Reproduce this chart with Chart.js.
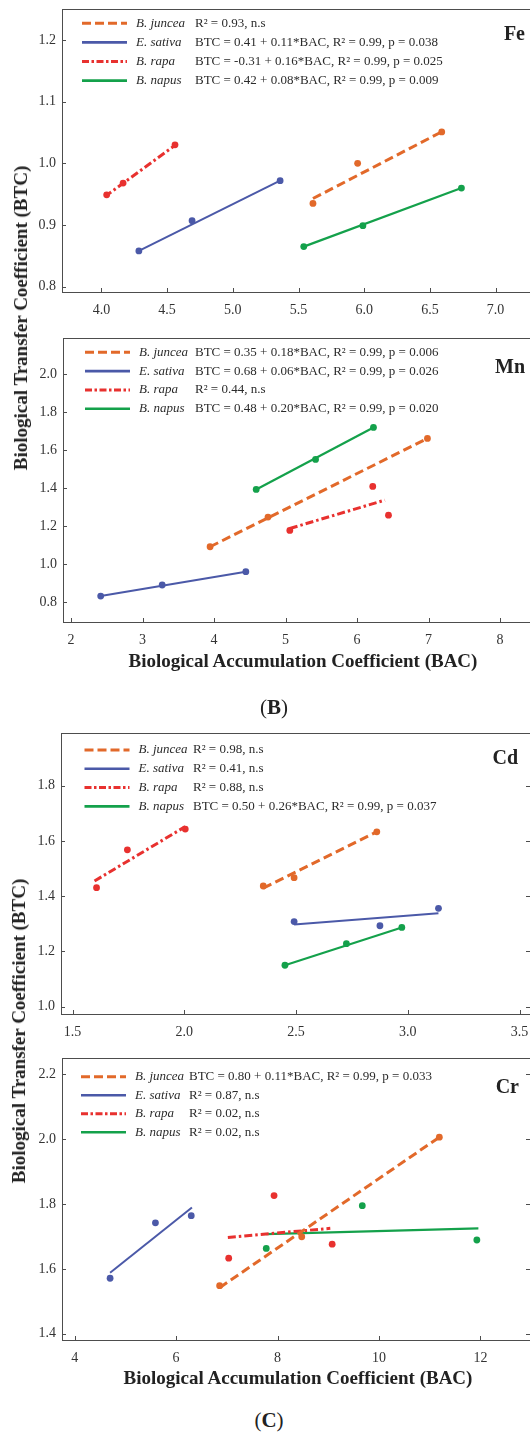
<!DOCTYPE html>
<html>
<head>
<meta charset="utf-8">
<script src="https://cdn.jsdelivr.net/npm/chart.js@4.4.0/dist/chart.umd.min.js"></script>
<style>
  html, body { margin:0; padding:0; background:#fff; }
  body { width:530px; height:1432px; position:relative; overflow:hidden;
         font-family:"Liberation Serif", "Times New Roman", serif; color:#222; }
  canvas { position:absolute; left:0; }
  .lbl { position:absolute; white-space:nowrap; transform:translate(-50%,-50%); font-weight:bold; font-size:19px; }
  .ytitle { transform:translate(-50%,-50%) rotate(-90deg); }
  .tag { font-size:21px; font-weight:normal; }
</style>
</head>
<body>
<canvas id="fe"></canvas>
<canvas id="mn"></canvas>
<canvas id="cd"></canvas>
<canvas id="cr"></canvas>

<div class="lbl ytitle" style="left:21px; top:318px">Biological Transfer Coefficient (BTC)</div>
<div class="lbl" style="left:303px; top:661px">Biological Accumulation Coefficient (BAC)</div>
<div class="lbl tag" style="left:274px; top:707px">(<b>B</b>)</div>
<div class="lbl ytitle" style="left:19px; top:1031px">Biological Transfer Coefficient (BTC)</div>
<div class="lbl" style="left:298px; top:1378px">Biological Accumulation Coefficient (BAC)</div>
<div class="lbl tag" style="left:269px; top:1420px">(<b>C</b>)</div>

<script>
const FONT = '"Liberation Serif", "Times New Roman", serif';

const species = ['B. juncea', 'E. sativa', 'B. rapa', 'B. napus'];

// ---- Fe : [BAC, BTC] ----
const feJuncea = [[5.61, 0.935], [5.95, 1.000], [6.59, 1.051]];
const feJunceaFit = [[5.61, 0.943], [6.58, 1.050]];
const feSativa = [[4.285, 0.858], [4.69, 0.907], [5.36, 0.972]];
const feSativaFit = [[4.285, 0.858], [5.36, 0.972]];
const feRapa = [[4.04, 0.949], [4.165, 0.968], [4.56, 1.030]];
const feRapaFit = [[4.025, 0.946], [4.578, 1.032]];
const feNapus = [[5.54, 0.865], [5.99, 0.899], [6.74, 0.960]];
const feNapusFit = [[5.54, 0.865], [6.74, 0.960]];
const feEq = ['R² = 0.93, n.s',
  'BTC = 0.41 + 0.11*BAC, R² = 0.99, p = 0.038',
  'BTC = -0.31 + 0.16*BAC, R² = 0.99, p = 0.025',
  'BTC = 0.42 + 0.08*BAC, R² = 0.99, p = 0.009'];
const feXTicks = ['4.0', '4.5', '5.0', '5.5', '6.0', '6.5', '7.0'];
const feYTicks = ['0.8', '0.9', '1.0', '1.1', '1.2'];

// ---- Mn ----
const mnJuncea = [[3.945, 1.092], [4.755, 1.248], [6.985, 1.661]];
const mnJunceaFit = [[3.945, 1.092], [6.985, 1.661]];
const mnSativa = [[2.415, 0.833], [3.275, 0.891], [4.445, 0.961]];
const mnSativaFit = [[2.415, 0.833], [4.445, 0.961]];
const mnRapa = [[5.06, 1.178], [6.22, 1.409], [6.44, 1.258]];
const mnRapaFit = [[5.06, 1.188], [6.39, 1.337]];
const mnNapus = [[4.59, 1.393], [5.42, 1.551], [6.23, 1.719]];
const mnNapusFit = [[4.59, 1.393], [6.23, 1.719]];
const mnEq = ['BTC = 0.35 + 0.18*BAC, R² = 0.99, p = 0.006',
  'BTC = 0.68 + 0.06*BAC, R² = 0.99, p = 0.026',
  'R² = 0.44, n.s',
  'BTC = 0.48 + 0.20*BAC, R² = 0.99, p = 0.020'];
const mnXTicks = ['2', '3', '4', '5', '6', '7', '8'];
const mnYTicks = ['0.8', '1.0', '1.2', '1.4', '1.6', '1.8', '2.0'];

// ---- Cd ----
const cdJuncea = [[2.353, 1.437], [2.491, 1.467], [2.861, 1.633]];
const cdJunceaFit = [[2.353, 1.429], [2.861, 1.633]];
const cdSativa = [[2.491, 1.308], [2.875, 1.293], [3.137, 1.356]];
const cdSativaFit = [[2.491, 1.298], [3.137, 1.338]];
const cdRapa = [[1.607, 1.431], [1.745, 1.568], [2.004, 1.643]];
const cdRapaFit = [[1.598, 1.455], [2.004, 1.652]];
const cdNapus = [[2.45, 1.150], [2.725, 1.228], [2.973, 1.287]];
const cdNapusFit = [[2.45, 1.150], [2.973, 1.287]];
const cdEq = ['R² = 0.98, n.s',
  'R² = 0.41, n.s',
  'R² = 0.88, n.s',
  'BTC = 0.50 + 0.26*BAC, R² = 0.99, p = 0.037'];
const cdXTicks = ['1.5', '2.0', '2.5', '3.0', '3.5'];
const cdYTicks = ['1.0', '1.2', '1.4', '1.6', '1.8'];

// ---- Cr ----
const crJuncea = [[6.858, 1.548], [8.477, 1.699], [11.19, 2.006]];
const crJunceaFit = [[6.858, 1.542], [11.19, 2.006]];
const crSativa = [[4.698, 1.571], [5.592, 1.742], [6.298, 1.764]];
const crSativaFit = [[4.698, 1.588], [6.312, 1.789]];
const crRapa = [[7.037, 1.633], [7.931, 1.826], [9.077, 1.676]];
const crRapaFit = [[7.02, 1.697], [9.04, 1.725]];
const crNapus = [[7.777, 1.663], [9.671, 1.795], [11.93, 1.689]];
const crNapusFit = [[7.777, 1.707], [11.96, 1.725]];
const crEq = ['BTC = 0.80 + 0.11*BAC, R² = 0.99, p = 0.033',
  'R² = 0.87, n.s',
  'R² = 0.02, n.s',
  'R² = 0.02, n.s'];
const crXTicks = ['4', '6', '8', '10', '12'];
const crYTicks = ['1.4', '1.6', '1.8', '2.0', '2.2'];

// line look for juncea / sativa / rapa / napus
const lineStyles = [
  {color: '#e2692a', width: 3, dash: [9, 4.5], legendWidth: 3, legendDash: [9, 4]},
  {color: '#4b59a8', width: 2, dash: [], legendWidth: 2.6, legendDash: []},
  {color: '#e8312f', width: 3, dash: [8, 3, 2.5, 3], legendWidth: 3, legendDash: [7, 2.5, 2.5, 2.5]},
  {color: '#14a14b', width: 2.2, dash: [], legendWidth: 2.6, legendDash: []}
];

const CW = 560;

// box, inward ticks, legend rows and element name
function makeFrame(p) {
  return {
    id: 'frame',
    afterDraw(chart) {
      const {ctx, chartArea: a, scales: {x, y}} = chart;
      ctx.save();
      ctx.strokeStyle = '#4d4d4d';
      ctx.lineWidth = 1;
      ctx.strokeRect(a.left + .5, a.top + .5, a.right - a.left, a.bottom - a.top);
      ctx.beginPath();
      x.ticks.forEach(t => {
        const px = Math.round(x.getPixelForValue(t.value)) + .5;
        ctx.moveTo(px, a.bottom); ctx.lineTo(px, a.bottom - 4);
      });
      y.ticks.forEach(t => {
        const py = Math.round(y.getPixelForValue(t.value)) + .5;
        ctx.moveTo(a.left, py); ctx.lineTo(a.left + 4, py);
        ctx.moveTo(a.right, py); ctx.lineTo(a.right - 4, py);
      });
      ctx.stroke();

      const L = p.legend;
      ctx.textBaseline = 'middle';
      ctx.textAlign = 'left';
      p.eqs.forEach((eq, i) => {
        const st = lineStyles[i];
        const yy = a.top + L.top + i * L.gap;
        ctx.strokeStyle = st.color;
        ctx.lineWidth = st.legendWidth;
        ctx.setLineDash(st.legendDash);
        ctx.beginPath();
        ctx.moveTo(a.left + L.x, yy);
        ctx.lineTo(a.left + L.x + 45, yy);
        ctx.stroke();
        ctx.setLineDash([]);
        ctx.fillStyle = '#2b2b2b';
        ctx.font = 'italic 13px ' + FONT;
        ctx.fillText(species[i], a.left + L.x + 54, yy);
        ctx.font = '13px ' + FONT;
        ctx.fillText(eq, L.eqX, yy);
      });

      ctx.font = 'bold 20px ' + FONT;
      ctx.textAlign = 'right';
      ctx.fillStyle = '#222';
      ctx.fillText(p.label, p.labelPos[0], a.top + p.labelPos[1]);
      ctx.restore();
    }
  };
}

function buildPanel(id, p) {
  const cv = document.getElementById(id);
  const top = p.area.top - 20;
  cv.width = CW;
  cv.height = p.area.bottom - top + 40;
  cv.style.top = top + 'px';

  const datasets = [];
  p.series.forEach((s, i) => {
    const st = lineStyles[i];
    datasets.push({
      data: s[1].map(([x, y]) => ({x, y})),
      showLine: true, borderColor: st.color, borderWidth: st.width, borderDash: st.dash,
      pointRadius: 0, fill: false
    });
    datasets.push({
      data: s[0].map(([x, y]) => ({x, y})),
      showLine: false, pointRadius: 3.4, backgroundColor: st.color, borderWidth: 0
    });
  });

  const tickFont = {family: FONT, size: 14};
  new Chart(cv, {
    type: 'scatter',
    data: {datasets},
    options: {
      responsive: false, animation: false, devicePixelRatio: 1, events: [],
      layout: {padding: {top: 20, left: 0, bottom: 0, right: CW - p.area.right}},
      plugins: {legend: {display: false}, tooltip: {enabled: false}},
      scales: {
        x: {
          type: 'linear', min: p.x[0], max: p.x[1],
          grid: {display: false, drawTicks: false}, border: {display: false},
          afterBuildTicks: s => { s.ticks = p.xTicks.map(t => ({value: parseFloat(t)})); },
          afterFit: s => { s.height = 40; },
          ticks: {autoSkip: false, maxRotation: 0, padding: 10, color: '#333', font: tickFont,
                  callback: (v, i) => p.xTicks[i]}
        },
        y: {
          type: 'linear', min: p.y[0], max: p.y[1],
          grid: {display: false, drawTicks: false}, border: {display: false},
          afterBuildTicks: s => { s.ticks = p.yTicks.map(t => ({value: parseFloat(t)})); },
          afterFit: s => { s.width = p.area.left; },
          ticks: {autoSkip: false, padding: 6, color: '#333', font: tickFont,
                  callback: (v, i) => p.yTicks[i]}
        }
      }
    },
    plugins: [makeFrame(p)]
  });
}

buildPanel('fe', {
  area: {left: 62, top: 9, right: 545, bottom: 292},
  x: [3.700, 7.376], y: [0.7914, 1.2503],
  xTicks: feXTicks, yTicks: feYTicks,
  series: [[feJuncea, feJunceaFit], [feSativa, feSativaFit], [feRapa, feRapaFit], [feNapus, feNapusFit]],
  eqs: feEq, label: 'Fe', labelPos: [525, 26],
  legend: {x: 20, top: 14.3, gap: 19.1, eqX: 195}
});

buildPanel('mn', {
  area: {left: 63, top: 338, right: 545, bottom: 622},
  x: [1.888, 8.629], y: [0.6965, 2.189],
  xTicks: mnXTicks, yTicks: mnYTicks,
  series: [[mnJuncea, mnJunceaFit], [mnSativa, mnSativaFit], [mnRapa, mnRapaFit], [mnNapus, mnNapusFit]],
  eqs: mnEq, label: 'Mn', labelPos: [525, 30],
  legend: {x: 22, top: 14.3, gap: 18.8, eqX: 195}
});

buildPanel('cd', {
  area: {left: 61, top: 733, right: 530, bottom: 1014},
  x: [1.448, 3.5465], y: [0.9736, 1.9908],
  xTicks: cdXTicks, yTicks: cdYTicks,
  series: [[cdJuncea, cdJunceaFit], [cdSativa, cdSativaFit], [cdRapa, cdRapaFit], [cdNapus, cdNapusFit]],
  eqs: cdEq, label: 'Cd', labelPos: [518, 26],
  legend: {x: 23.5, top: 17, gap: 18.8, eqX: 193}
});

buildPanel('cr', {
  area: {left: 62, top: 1058, right: 530, bottom: 1340},
  x: [3.7496, 12.978], y: [1.3806, 2.2503],
  xTicks: crXTicks, yTicks: crYTicks,
  series: [[crJuncea, crJunceaFit], [crSativa, crSativaFit], [crRapa, crRapaFit], [crNapus, crNapusFit]],
  eqs: crEq, label: 'Cr', labelPos: [519, 30],
  legend: {x: 19, top: 18.7, gap: 18.5, eqX: 189}
});
</script>
</body>
</html>
